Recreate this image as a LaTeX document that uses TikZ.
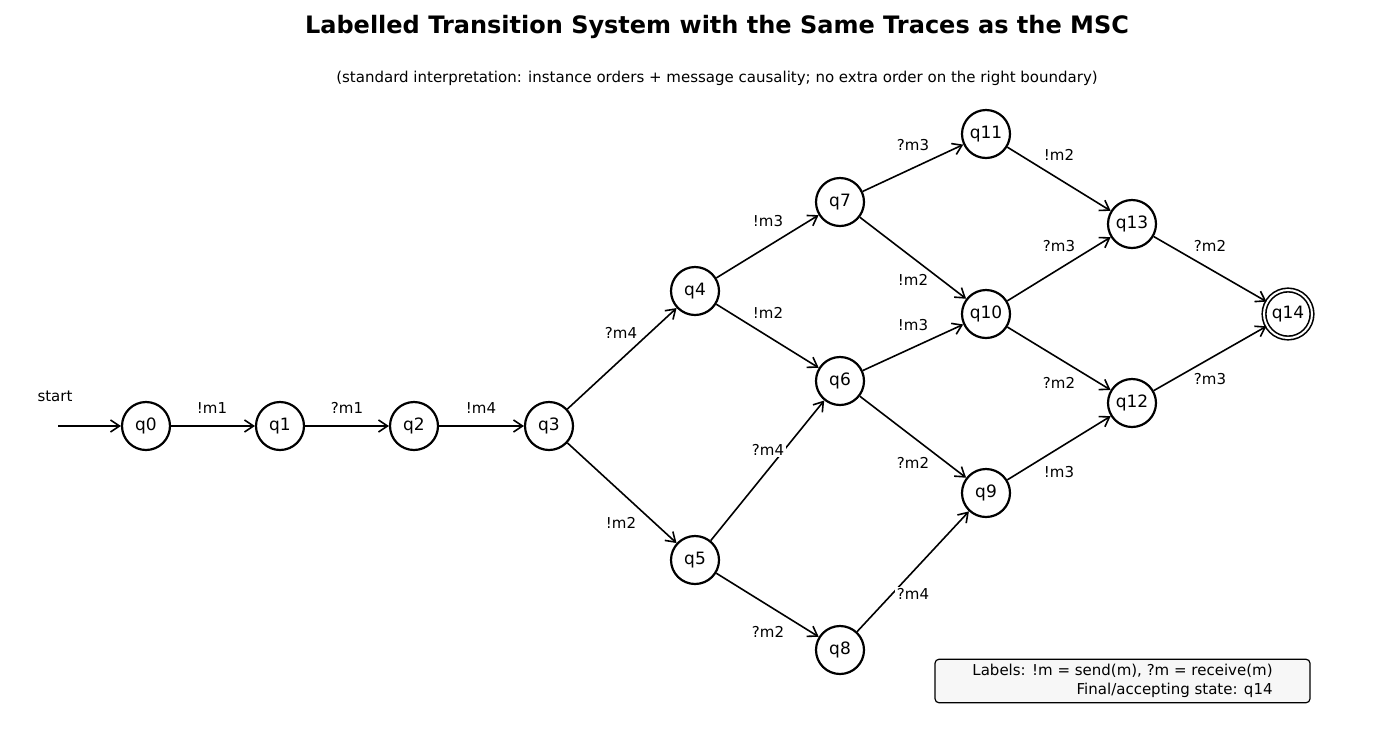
\documentclass[tikz,border=0pt]{standalone}
\usepackage{fontspec}
\setmainfont{DejaVu Sans}
\usetikzlibrary{arrows.meta}
\tikzset{
  state/.style={circle,draw,line width=2.2pt,minimum size=48pt,inner sep=0pt,font=\fontsize{17}{20}\selectfont},
  accept/.style={state,double,double distance=2pt,line width=1.6pt},
  trans/.style={draw,line width=1.6pt,-{Straight Barb[length=9pt,width=12pt,line width=1.6pt]}},
  lbl/.style={fill=white,inner sep=1.5pt,font=\fontsize{15}{18}\selectfont}
}
\begin{document}
\begin{tikzpicture}[x=1pt,y=-1pt]
\useasboundingbox (0,0) rectangle (1378,740);
\node[font=\bfseries\fontsize{24}{28}\selectfont] (title) at (717,27) {Labelled Transition System with the Same Traces as the MSC};
\node[font=\fontsize{15}{18}\selectfont] (sub) at (717,78) {(standard interpretation: instance orders + message causality; no extra order on the right boundary)};
% states
\node[state] (q0) at (146,426) {q0};
\node[state] (q1) at (280,426) {q1};
\node[state] (q2) at (414,426) {q2};
\node[state] (q3) at (549,426) {q3};
\node[state] (q4) at (695,291) {q4};
\node[state] (q5) at (695,560) {q5};
\node[state] (q6) at (840,381) {q6};
\node[state] (q7) at (840,202) {q7};
\node[state] (q8) at (840,650) {q8};
\node[state] (q9) at (986,493) {q9};
\node[state] (q10) at (986,314) {q10};
\node[state] (q11) at (986,134) {q11};
\node[state] (q12) at (1132,403) {q12};
\node[state] (q13) at (1132,224) {q13};
\node[accept] (q14) at (1288,314) {q14};
% start
\coordinate (s) at (58,426);
\node[font=\fontsize{15}{18}\selectfont] (slbl) at (55,396) {start};
\draw[trans,line width=2.4pt] (s) -- (q0);
% transitions
\foreach \a/\b in {q0/q1,q1/q2,q2/q3,q3/q4,q3/q5,q4/q7,q4/q6,q5/q6,q5/q8,q7/q11,q7/q10,q6/q10,q6/q9,q8/q9,q11/q13,q10/q13,q10/q12,q9/q12,q13/q14,q12/q14}
  \draw[trans] (\a) -- (\b);
% labels
\foreach \x/\y/\t in {212/408/!m1,347/408/?m1,481/408/!m4,621/333/?m4,621/523/!m2,768/221/!m3,768/313/!m2,768/450/?m4,768/632/?m2,913/145/?m3,913/280/!m2,913/325/!m3,913/463/?m2,913/594/?m4,1059/155/!m2,1059/246/?m3,1059/383/?m2,1059/472/!m3,1210/246/?m2,1210/379/?m3}
  \node[lbl] at (\x,\y) {\t};
% legend
\node[draw,line width=1.2pt,rounded corners=4pt,fill=black!3,align=right,inner sep=5pt,font=\fontsize{15}{19}\selectfont,minimum width=375pt] (legend) at (1122.5,681) {Labels: !m = send(m), ?m = receive(m)\\Final/accepting state: q14};
\end{tikzpicture}
\end{document}
